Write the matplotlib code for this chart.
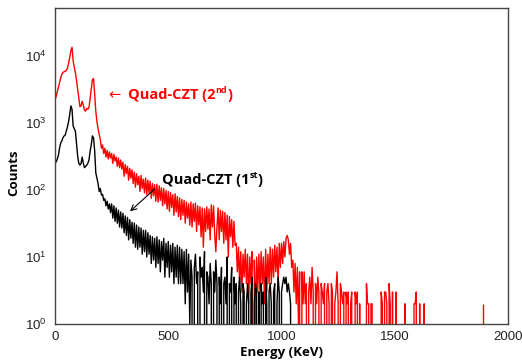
import matplotlib
matplotlib.use('Agg')
import matplotlib.pyplot as plt
import numpy as np

plt.rcParams['font.family'] = ['Liberation Sans', 'DejaVu Sans']
plt.rcParams['mathtext.fontset'] = 'custom'
plt.rcParams['mathtext.rm'] = 'Liberation Sans'

bin_kev = 5  # spectrum bin width (keV), counts

# Quad-CZT (2nd) - red, 0 .. 1645 keV
red_counts = [
    2200, 2500, 2900, 3400, 4000, 4700, 5300, 5700, 5800, 5900,
    6100, 6600, 7800, 9500, 12000, 13500, 8500, 6800, 5600, 4300,
    3200, 2400, 1750, 1800, 2100, 1850, 1550, 1500, 1650, 1600,
    1700, 2300, 3200, 4400, 4600, 2700, 1500, 1050, 820, 680,
    560, 420, 470, 350, 420, 310, 390, 290, 370, 300,
    350, 250, 340, 270, 310, 225, 300, 215, 280, 205,
    260, 160, 240, 175, 225, 140, 210, 150, 200, 125,
    185, 110, 175, 120, 160, 95, 165, 105, 145, 90,
    150, 85, 140, 90, 135, 75, 125, 82, 120, 68,
    122, 66, 115, 70, 108, 58, 105, 62, 98, 52,
    95, 48, 92, 55, 85, 42, 88, 47, 80, 40,
    76, 36, 72, 42, 70, 32, 66, 38, 62, 30,
    66, 28, 62, 34, 64, 24, 58, 30, 56, 20,
    54, 14, 52, 24, 56, 26, 52, 18, 60, 28,
    58, 22, 12, 28, 54, 18, 50, 24, 48, 16,
    46, 18, 42, 10, 40, 20, 36, 14, 34, 15,
    16, 6, 14, 4, 12, 3, 11, 5, 13, 4,
    11, 2, 10, 4, 12, 0, 9, 1, 10, 3,
    11, 3, 12, 4, 10, 2, 13, 3, 11, 4,
    14, 4, 13, 5, 15, 6, 14, 4, 16, 7,
    16, 8, 17, 10, 19, 21, 18, 11, 16, 7,
    9, 3, 8, 2, 7, 1, 6, 0, 6, 2,
    6, 2, 4, 0, 3, 5, 2, 7, 3, 0,
    4, 2, 5, 3, 0, 4, 3, 2, 4, 0,
    3, 4, 2, 0, 4, 3, 0, 2, 3, 6,
    2, 0, 4, 3, 2, 3, 0, 3, 2, 3,
    0, 2, 3, 0, 0, 3, 2, 3, 0, 2,
    0, 0, 0, 0, 0, 4, 2, 2, 0, 2,
    2, 0, 0, 0, 0, 0, 0, 0, 3, 2,
    0, 3, 3, 2, 0, 4, 2, 0, 3, 0,
    0, 3, 0, 0, 0, 0, 0, 0, 0, 2,
    0, 0, 0, 0, 0, 0, 0, 2, 2, 3,
    0, 0, 2, 0, 0, 0, 2, 0, 0, 0,
]
red_far_energy = [1890]
red_far_counts = [2]

# Quad-CZT (1st) - black, 0 .. 1045 keV
black_counts = [
    290, 260, 290, 330, 420, 500, 540, 600, 640, 660,
    760, 880, 1050, 1350, 1800, 1600, 900, 820, 750, 480,
    320, 250, 235, 250, 310, 250, 215, 225, 235, 250,
    280, 380, 470, 640, 600, 390, 180, 150, 125, 95,
    105, 84, 86, 70, 74, 58, 68, 52, 62, 46,
    62, 38, 58, 34, 54, 32, 50, 28, 47, 27,
    45, 23, 41, 21, 39, 18, 36, 19, 33, 16,
    32, 14, 30, 13, 28, 14, 27, 11, 25, 12,
    25, 10, 23, 11, 21, 8, 20, 9, 19, 7,
    20, 8, 18, 6, 17, 9, 19, 5, 16, 7,
    17, 5, 15, 6, 16, 4, 14, 5, 15, 4,
    14, 4, 13, 4, 12, 2, 13, 3, 11, 1,
    9, 5, 0, 7, 11, 4, 6, 0, 10, 5,
    7, 3, 12, 0, 6, 5, 2, 8, 4, 0,
    6, 3, 9, 4, 0, 5, 2, 7, 0, 4,
    5, 2, 10, 0, 4, 3, 7, 0, 5, 2,
    4, 0, 3, 5, 2, 0, 4, 3, 0, 2,
    4, 2, 0, 3, 5, 0, 2, 4, 3, 0,
    3, 0, 4, 2, 3, 0, 5, 2, 0, 3,
    4, 2, 0, 3, 4, 0, 2, 5, 3, 0,
    3, 4, 5, 4, 5, 3, 4, 3, 2, 0,
]

red_energy = np.arange(len(red_counts)) * bin_kev
black_energy = np.arange(len(black_counts)) * bin_kev

fig = plt.figure(figsize=(5.22, 3.62), dpi=100)
ax = fig.add_axes([0.1054, 0.105, 0.8678, 0.873])

ax.plot(red_energy, red_counts, color='#ff0000', lw=1.0)
ax.vlines(red_far_energy, 0.01, red_far_counts, color='#ff0000', lw=1.0)
ax.plot(black_energy, black_counts, color='black', lw=1.0)

ax.set_yscale('log')
ax.set_xlim(0, 2000)
ax.set_ylim(1, 5.2e4)
ax.set_xticks([0, 500, 1000, 1500, 2000])
ax.set_yticks([1, 10, 100, 1000, 10000])
ax.minorticks_off()
ax.tick_params(length=0, labelsize=9.5, colors='#222222')
ax.tick_params(axis='y', pad=6)
ax.tick_params(axis='x', pad=5)
for sp in ax.spines.values():
    sp.set_color('#444444')
    sp.set_linewidth(1.0)

bold = dict(fontweight='bold', family=['Open Sans', 'DejaVu Sans'])
ax.set_xlabel('Energy (KeV)', fontsize=9.5, labelpad=2, **bold)
ax.set_ylabel('Counts', fontsize=9.5, **bold)
ax.yaxis.set_label_coords(-0.076, 0.48)


def sup_label(x, y, base, sup, color):
    t1 = ax.text(x, y, base, color=color, fontsize=10.5, ha='left', va='center', **bold)
    t2 = ax.annotate(sup, xy=(1, 0.5), xycoords=t1, ha='left', va='bottom',
                     color=color, fontsize=6.5, **bold)
    ax.annotate(')', xy=(1, 0), xycoords=(t2, t1), ha='left', va='bottom',
                color=color, fontsize=10.5, **bold)


ax.text(234, 2600, '\u2190', color='#ff0000', fontsize=10.5, ha='left', va='center',
        family='DejaVu Sans')
sup_label(322, 2600, 'Quad-CZT (2', 'nd', '#ff0000')
sup_label(472, 141, 'Quad-CZT (1', 'st', 'black')
ax.annotate('', xy=(322, 45), xytext=(450, 111),
            arrowprops=dict(arrowstyle='->', color='black', lw=0.8))

fig.savefig('out.png', dpi=100)
